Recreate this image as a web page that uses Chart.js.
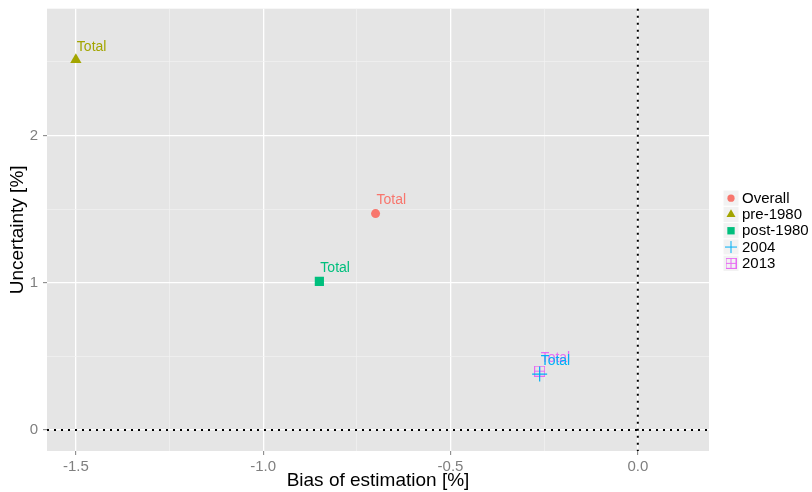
<!DOCTYPE html>
<html>
<head>
<meta charset="utf-8">
<script src="https://cdn.jsdelivr.net/npm/chart.js@4"></script>
<style>
  html, body { margin: 0; padding: 0; background: #fff; }
  #wrap { width: 812px; height: 492px; }
</style>
</head>
<body>
<div id="wrap"><canvas id="c" width="812" height="492"></canvas></div>
<script>
// ─── Data ─────────────────────────────────────────────
const seriesNames  = ['Overall', 'pre-1980', 'post-1980', '2004', '2013'];
const biasValues   = [-0.70, -1.50, -0.85, -0.262, -0.262];
const uncertValues = [1.47, 2.515, 1.01, 0.38, 0.40];
const pointLabels  = ['Total', 'Total', 'Total', 'Total', 'Total'];
const xTicks = [-1.5, -1.25, -1.0, -0.75, -0.5, -0.25, 0.0];
const yTicks = [0, 0.5, 1, 1.5, 2, 2.5];

// ─── Style ────────────────────────────────────────────
const C = {
    colors: ['#F8766D', '#A3A500', '#00BF7D', '#00B0F6', '#E76BF3'],
    panel:  '#E5E5E5',
    major:  '#FFFFFF',
    minor:  '#F2F2F2',
    tick:   '#7F7F7F',
    font:   "'Liberation Sans', Arial, sans-serif"
};

// square with a plus inside (R shape 12)
function squarePlus(color) {
    const cv = document.createElement('canvas');
    cv.width = 11; cv.height = 11;
    const g = cv.getContext('2d');
    g.strokeStyle = color; g.lineWidth = 1;
    g.strokeRect(0.5, 0.5, 10, 10);
    g.beginPath();
    g.moveTo(5.5, 0.5); g.lineTo(5.5, 10.5);
    g.moveTo(0.5, 5.5); g.lineTo(10.5, 5.5);
    g.stroke();
    return cv;
}

const shapes = ['circle', 'triangle', 'rect', 'cross', squarePlus(C.colors[4])];
const radii  = [4.5, 6.5, 6.5, 7.5, 5.5];

const datasets = seriesNames.map((name, i) => ({
    label: name,
    data: [{ x: biasValues[i], y: uncertValues[i] }],
    pointStyle: shapes[i],
    pointRadius: radii[i],
    pointHoverRadius: radii[i],
    backgroundColor: C.colors[i],
    borderColor: C.colors[i],
    borderWidth: i >= 3 ? 1.2 : 0
}));

const isMajorX = v => Math.abs(v * 2 - Math.round(v * 2)) < 1e-6;
const isMajorY = v => Math.abs(v - Math.round(v)) < 1e-6;

// ─── Plugins ──────────────────────────────────────────
const panelBg = {
    id: 'panelBg',
    beforeDraw(chart) {
        const { ctx, chartArea: a } = chart;
        ctx.save();
        ctx.fillStyle = C.panel;
        ctx.fillRect(a.left, a.top, a.right - a.left, a.bottom - a.top);
        ctx.restore();
    }
};

const zeroLines = {
    id: 'zeroLines',
    beforeDatasetsDraw(chart) {
        const { ctx, chartArea: a, scales } = chart;
        const x0 = scales.x.getPixelForValue(0);
        const y0 = scales.y.getPixelForValue(0);
        ctx.save();
        ctx.strokeStyle = '#000';
        ctx.lineWidth = 2;
        ctx.setLineDash([2, 5]);
        ctx.beginPath();
        ctx.moveTo(x0, a.top); ctx.lineTo(x0, a.bottom);
        ctx.moveTo(a.left, y0); ctx.lineTo(a.right, y0);
        ctx.stroke();
        ctx.restore();
    }
};

const textLabels = {
    id: 'textLabels',
    afterDatasetsDraw(chart) {
        const { ctx } = chart;
        ctx.save();
        ctx.font = '14px ' + C.font;
        ctx.textAlign = 'left';
        ctx.textBaseline = 'middle';
        for (let i = datasets.length - 1; i >= 0; i--) {
            const pt = chart.getDatasetMeta(i).data[0];
            ctx.fillStyle = C.colors[i];
            ctx.fillText(pointLabels[i], pt.x + 1, pt.y - 13);
        }
        ctx.restore();
    }
};

const sideLegend = {
    id: 'sideLegend',
    afterDraw(chart) {
        const { ctx } = chart;
        const x = 723, top = 190, h = 16.3;
        ctx.save();
        seriesNames.forEach((name, i) => {
            const y = top + i * h;
            ctx.fillStyle = C.minor;
            ctx.fillRect(x, y, 16, h);
            ctx.strokeStyle = '#fff';
            ctx.lineWidth = 1;
            ctx.strokeRect(x, y, 16, h);
            ctx.fillStyle = C.colors[i];
            ctx.strokeStyle = C.colors[i];
            Chart.helpers.drawPoint(ctx, {
                pointStyle: shapes[i],
                radius: radii[i] * 0.8,
                borderWidth: i >= 3 ? 1.2 : 0
            }, x + 8, y + h / 2);
            ctx.fillStyle = '#000';
            ctx.font = '15px ' + C.font;
            ctx.textAlign = 'left';
            ctx.textBaseline = 'middle';
            ctx.fillText(name, x + 19, y + h / 2 + 0.5);
        });
        ctx.restore();
    }
};

const axisTitles = {
    id: 'axisTitles',
    afterDraw(chart) {
        const { ctx, chartArea: a } = chart;
        ctx.save();
        ctx.fillStyle = '#000';
        ctx.font = '19px ' + C.font;
        ctx.textAlign = 'center';
        ctx.textBaseline = 'middle';
        ctx.fillText('Bias of estimation [%]', (a.left + a.right) / 2, 481);
        ctx.translate(18, (a.top + a.bottom) / 2);
        ctx.rotate(-Math.PI / 2);
        ctx.fillText('Uncertainty [%]', 0, 0);
        ctx.restore();
    }
};

// ─── Chart ────────────────────────────────────────────
new Chart(document.getElementById('c').getContext('2d'), {
    type: 'scatter',
    data: { datasets },
    plugins: [panelBg, zeroLines, textLabels, sideLegend, axisTitles],
    options: {
        responsive: false,
        animation: false,
        events: [],
        layout: { padding: { left: 0, top: 8, right: 103, bottom: 0 } },
        plugins: { legend: { display: false }, tooltip: { enabled: false } },
        scales: {
            x: {
                type: 'linear',
                min: -1.577, max: 0.19,
                afterBuildTicks: s => { s.ticks = xTicks.map(v => ({ value: v })); },
                afterFit: s => { s.height = 41; s.paddingLeft = 0; s.paddingRight = 0; },
                border: { display: false },
                grid: {
                    color: c => isMajorX(c.tick.value) ? C.major : C.minor,
                    lineWidth: c => isMajorX(c.tick.value) ? 1.3 : 0.7,
                    tickColor: c => isMajorX(c.tick.value) ? C.tick : 'rgba(0,0,0,0)',
                    tickLength: 4,
                    tickWidth: 1
                },
                ticks: {
                    autoSkip: false, maxRotation: 0, padding: 3,
                    color: C.tick, font: { size: 15, family: C.font },
                    callback: v => isMajorX(v) ? v.toFixed(1) : ''
                }
            },
            y: {
                type: 'linear',
                min: -0.142, max: 2.861,
                afterBuildTicks: s => { s.ticks = yTicks.map(v => ({ value: v })); },
                afterFit: s => { s.width = 47; s.paddingTop = 0; s.paddingBottom = 0; },
                border: { display: false },
                grid: {
                    color: c => isMajorY(c.tick.value) ? C.major : C.minor,
                    lineWidth: c => isMajorY(c.tick.value) ? 1.3 : 0.7,
                    tickColor: c => isMajorY(c.tick.value) ? C.tick : 'rgba(0,0,0,0)',
                    tickLength: 4,
                    tickWidth: 1
                },
                ticks: {
                    autoSkip: false, padding: 5,
                    color: C.tick, font: { size: 15, family: C.font },
                    callback: v => isMajorY(v) ? String(v) : ''
                }
            }
        }
    }
});
</script>
</body>
</html>
